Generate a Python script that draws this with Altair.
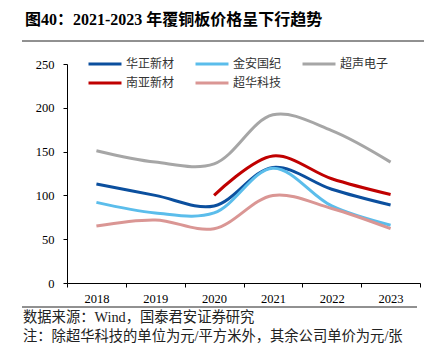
import altair as alt
import pandas as pd

years = ["2018", "2019", "2020", "2021", "2022", "2023"]
companies = ["华正新材", "金安国纪", "超声电子", "南亚新材", "超华科技"]
huazheng = [113, 100, 88, 132, 107, 89]
jinan = [92, 80, 80, 131, 88, 66]
chaosheng = [151, 138, 136, 192, 174, 138]
nanya = [None, None, 100, 145, 119, 101]
chaohua = [65, 72, 62, 100, 85, 62]
colors = ["#0B4F9E", "#5BBDEB", "#A6A6A6", "#C00000", "#DA9694"]
# legend fills column by column (2 rows): order so rows read like the reference
legend_order = ["华正新材", "南亚新材", "金安国纪", "超华科技", "超声电子"]

title_text = "图40：2021-2023 年覆铜板价格呈下行趋势"
source_text = "数据来源：Wind，国泰君安证券研究"
note_text = "注：除超华科技的单位为元/平方米外，其余公司单价为元/张"

series = [huazheng, jinan, chaosheng, nanya, chaohua]
rows = []
for name, vals in zip(companies, series):
    for y, v in zip(years, vals):
        if v is not None:
            rows.append({"year": y, "company": name, "value": v})
df = pd.DataFrame(rows)

color_map = dict(zip(companies, colors))
legend_colors = [color_map[c] for c in legend_order]

SERIF = "'Liberation Serif', 'Times New Roman', 'Noto Sans CJK SC', serif"
CJK = "'Noto Sans CJK SC', sans-serif"

lines = alt.Chart(df).mark_line(interpolate="catmull-rom", strokeWidth=3, clip=False).encode(
    x=alt.X("year:O", scale=alt.Scale(type="band", domain=years, paddingInner=0, paddingOuter=0),
            axis=alt.Axis(title=None, labelAngle=0, tickBand="extent", domainColor="black",
                          tickColor="black", tickSize=4, labelFont=SERIF, labelFontSize=12.5,
                          labelColor="black", labelPadding=5, grid=False)),
    y=alt.Y("value:Q", scale=alt.Scale(domain=[0, 250], nice=False),
            axis=alt.Axis(title=None, values=[0, 50, 100, 150, 200, 250], domainColor="black",
                          tickColor="black", tickSize=4, labelFont=SERIF, labelFontSize=12.5,
                          labelColor="black", labelPadding=9, grid=False)),
    color=alt.Color("company:N", scale=alt.Scale(domain=legend_order, range=legend_colors),
                    legend=alt.Legend(title=None, orient="none", legendX=28, legendY=-10,
                                      columns=3, symbolType="M-2,0H2", symbolStrokeWidth=3,
                                      symbolSize=272, labelFont=CJK, labelFontSize=12,
                                      labelColor="#333333", labelOffset=11, columnPadding=14,
                                      rowPadding=3, gridAlign="all")),
    detail="company:N",
)

texts = pd.DataFrame({
    "label": [title_text, source_text, note_text],
    "kind": ["title", "source", "note"],
})

title = alt.Chart(texts).transform_filter(alt.datum.kind == "title").mark_text(
    align="left", baseline="middle", font=SERIF, fontSize=16, fontWeight="bold", color="black"
).encode(text="label:N", x=alt.value(-42), y=alt.value(-44))

source = alt.Chart(texts).transform_filter(alt.datum.kind == "source").mark_text(
    align="left", baseline="middle", font=SERIF, fontSize=14.3, color="#222222"
).encode(text="label:N", x=alt.value(-44), y=alt.value(254))

note = alt.Chart(texts).transform_filter(alt.datum.kind == "note").mark_text(
    align="left", baseline="middle", font=SERIF, fontSize=14.3, color="#222222"
).encode(text="label:N", x=alt.value(-44), y=alt.value(273))

top_rule = alt.Chart(texts).transform_filter(alt.datum.kind == "title").mark_rule(
    color="#222222", strokeWidth=1
).encode(x=alt.value(-45), x2=alt.value(357), y=alt.value(-23))

bottom_rule = alt.Chart(texts).transform_filter(alt.datum.kind == "title").mark_rule(
    color="#222222", strokeWidth=1
).encode(x=alt.value(-45), x2=alt.value(350), y=alt.value(243))

chart = alt.layer(lines, title, source, note, top_rule, bottom_rule).properties(
    width=353, height=219,
    padding={"left": 67, "top": 64, "right": 20, "bottom": 71},
    autosize=alt.AutoSizeParams(type="none"),
    background="white",
).configure_view(stroke=None)

chart.save("out.html", embed_options={"renderer": "svg", "actions": False})
